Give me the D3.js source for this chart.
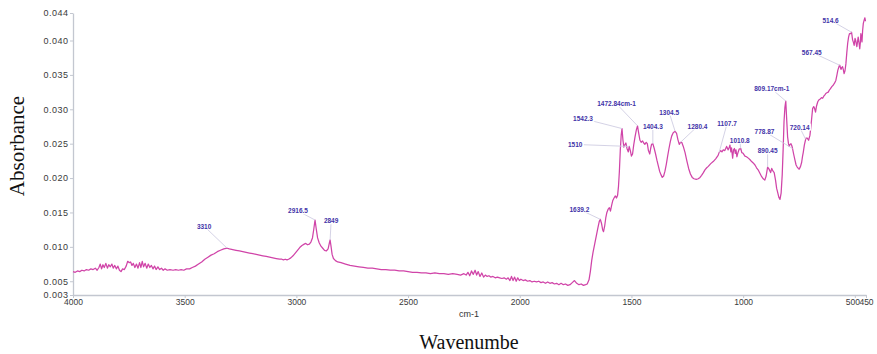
<!DOCTYPE html>
<html>
<head>
<meta charset="utf-8">
<script src="https://cdn.jsdelivr.net/npm/d3@7"></script>
<style>
  body { margin: 0; background: #fff; }
  svg { display: block; }
</style>
</head>
<body>
<svg id="chart" width="877" height="354"></svg>
<script>
// FTIR absorbance spectrum: [wavenumber (cm-1), absorbance]
const spectrum = [
  [4000,0.0064],[3990,0.0063],[3980,0.0065],[3970,0.0064],[3960,0.0066],[3950,0.0065],[3940,0.0067],
  [3930,0.0066],[3920,0.0068],[3910,0.0067],[3900,0.0069],[3892,0.0066],[3884,0.0070],[3878,0.0075],
  [3872,0.0068],[3866,0.0074],[3860,0.0070],[3853,0.0076],[3846,0.0069],[3840,0.0074],[3833,0.0071],
  [3826,0.0075],[3820,0.0069],[3813,0.0073],[3806,0.0068],[3799,0.0072],[3792,0.0066],[3785,0.0064],
  [3778,0.0068],[3770,0.0067],[3762,0.0072],[3755,0.0079],[3748,0.0077],[3742,0.0078],[3736,0.0073],
  [3730,0.0076],[3723,0.0070],[3716,0.0075],[3709,0.0069],[3702,0.0077],[3696,0.0070],[3690,0.0079],
  [3684,0.0071],[3677,0.0076],[3670,0.0069],[3663,0.0075],[3656,0.0070],[3649,0.0073],[3642,0.0068],
  [3635,0.0072],[3628,0.0067],[3620,0.0071],[3612,0.0067],[3604,0.0069],[3596,0.0066],[3588,0.0068],
  [3578,0.0066],[3566,0.0067],[3552,0.0066],[3540,0.0067],[3528,0.0066],[3516,0.0067],[3504,0.0066],
  [3492,0.0068],[3478,0.0068],[3466,0.0070],[3452,0.0072],[3438,0.0075],[3424,0.0078],[3410,0.0082],
  [3396,0.0085],[3382,0.0088],[3368,0.0090],[3354,0.0093],[3340,0.0095],[3325,0.0097],[3310,0.0098],
  [3300,0.0097],[3285,0.0096],[3270,0.0095],[3255,0.0094],[3240,0.0093],[3225,0.0092],[3210,0.0091],
  [3195,0.0090],[3180,0.0089],[3165,0.0088],[3150,0.0087],[3135,0.0086],[3120,0.0085],[3105,0.0084],
  [3090,0.0083],[3075,0.0082],[3065,0.0082],[3058,0.0081],[3050,0.0082],[3042,0.0081],[3035,0.0082],
  [3025,0.0084],[3015,0.0087],[3005,0.0091],[2995,0.0095],[2985,0.0099],[2975,0.0102],[2965,0.0104],
  [2958,0.0105],[2950,0.0103],[2942,0.0104],[2935,0.0107],[2928,0.0113],[2922,0.0126],[2916.5,0.0139],
  [2911,0.0126],[2905,0.0113],[2898,0.0106],[2890,0.0101],[2882,0.0098],[2874,0.0095],[2866,0.0094],
  [2858,0.0097],[2852,0.0106],[2849,0.0110],[2845,0.0101],[2840,0.0089],[2834,0.0083],[2825,0.0080],
  [2815,0.0078],[2800,0.0077],[2780,0.0075],[2760,0.0073],[2740,0.0072],[2720,0.0071],
  [2700,0.0070],[2680,0.0069],[2660,0.0069],[2640,0.0068],[2620,0.0067],[2600,0.0067],[2580,0.0066],
  [2560,0.0066],[2540,0.0065],[2520,0.0065],[2500,0.0064],[2480,0.0063],[2460,0.0063],[2440,0.0062],
  [2420,0.0062],[2400,0.0061],[2380,0.0062],[2360,0.0061],[2340,0.0061],[2320,0.0060],[2300,0.0061],
  [2280,0.0060],[2265,0.0059],[2250,0.0061],[2240,0.0059],[2232,0.0063],[2224,0.0058],[2216,0.0065],
  [2208,0.0060],[2200,0.0066],[2193,0.0059],[2186,0.0064],[2178,0.0057],[2170,0.0062],[2162,0.0056],
  [2154,0.0059],[2146,0.0057],[2138,0.0058],[2130,0.0056],[2120,0.0057],[2110,0.0055],[2100,0.0056],
  [2090,0.0055],[2080,0.0054],[2070,0.0055],[2060,0.0053],[2052,0.0055],[2044,0.0051],[2037,0.0057],
  [2030,0.0051],[2023,0.0056],[2016,0.0050],[2009,0.0055],[2002,0.0051],[1995,0.0053],[1985,0.0051],
  [1975,0.0052],[1965,0.0050],[1955,0.0051],[1945,0.0049],[1935,0.0050],[1925,0.0049],[1915,0.0050],
  [1905,0.0048],[1895,0.0049],[1885,0.0047],[1875,0.0049],[1865,0.0047],[1855,0.0048],[1845,0.0046],
  [1835,0.0047],[1825,0.0045],[1815,0.0047],[1805,0.0045],[1795,0.0046],[1785,0.0044],[1775,0.0045],
  [1765,0.0048],[1755,0.0051],[1745,0.0047],[1735,0.0045],[1725,0.0046],[1715,0.0044],[1705,0.0045],
  [1698,0.0046],[1690,0.0052],[1684,0.0064],[1678,0.0080],
  [1672,0.0092],[1664,0.0105],[1656,0.0118],[1650,0.0128],[1644,0.0137],[1639.2,0.0140],[1634,0.0134],
  [1629,0.0125],[1625,0.0122],[1620,0.0130],[1615,0.0142],[1610,0.0150],[1604,0.0155],[1599,0.0157],
  [1594,0.0152],[1589,0.0160],[1584,0.0167],[1578,0.0171],[1572,0.0174],[1567,0.0171],[1562,0.0175],
  [1558,0.0188],[1554,0.0210],[1550,0.0240],[1546,0.0262],[1542.3,0.0272],[1538,0.0255],[1534,0.0245],
  [1530,0.0248],[1525,0.0251],[1520,0.0243],[1514,0.0238],[1510,0.0246],[1505,0.0240],[1500,0.0232],
  [1495,0.0235],[1490,0.0248],[1484,0.0260],[1478,0.0270],[1472.84,0.0276],[1468,0.0266],[1462,0.0255],
  [1456,0.0252],[1450,0.0254],[1445,0.0251],[1440,0.0249],[1434,0.0252],[1429,0.0250],[1424,0.0240],
  [1418,0.0235],[1414,0.0243],[1410,0.0249],[1404.3,0.0250],[1398,0.0243],[1392,0.0235],[1386,0.0226],
  [1380,0.0218],[1374,0.0210],[1368,0.0205],[1362,0.0201],[1356,0.0203],[1350,0.0210],[1344,0.0220],
  [1338,0.0232],[1332,0.0243],[1326,0.0253],[1320,0.0261],[1313,0.0266],[1304.5,0.0268],[1298,0.0265],
  [1292,0.0256],[1286,0.0249],[1280.4,0.0252],[1275,0.0252],[1268,0.0246],[1260,0.0237],[1252,0.0225],
  [1244,0.0214],[1236,0.0206],[1228,0.0201],[1220,0.0199],[1210,0.0198],[1201,0.0199],[1193,0.0201],
  [1186,0.0204],[1178,0.0208],[1171,0.0212],[1163,0.0215],[1156,0.0217],[1145,0.0221],[1134,0.0224],
  [1123,0.0228],[1112,0.0233],[1107.7,0.0237],[1101,0.0240],[1095,0.0238],[1089,0.0241],[1082,0.0240],
  [1074,0.0246],[1067,0.0241],[1062,0.0245],[1059,0.0248],[1055,0.0238],[1052,0.0244],[1047,0.0229],
  [1043,0.0241],[1039,0.0243],[1035,0.0236],[1032,0.0241],[1028,0.0231],[1024,0.0236],[1018,0.0242],
  [1010.8,0.0243],[1006,0.0237],[1000,0.0236],[992,0.0232],[985,0.0231],[977,0.0229],[970,0.0227],
  [962,0.0224],[955,0.0222],[947,0.0219],[940,0.0215],[933,0.0212],[925,0.0207],[917,0.0202],
  [910,0.0199],[903,0.0197],[897,0.0203],[890.45,0.0216],[884,0.0213],[877,0.0208],[872,0.0214],
  [866,0.0210],[861,0.0208],[855,0.0197],[850,0.0185],[846,0.0180],[840,0.0172],[835,0.0169],
  [830,0.0178],[825,0.0205],[821,0.0241],[817,0.0282],[813,0.0303],[809.17,0.0312],[805,0.0285],
  [801,0.0260],[797,0.0250],[794,0.0246],[790,0.0249],[786,0.0250],[782,0.0247],[778.87,0.0243],
  [774,0.0235],[768,0.0226],[763,0.0219],[758,0.0216],[753,0.0214],[749,0.0213],[743,0.0217],
  [738,0.0223],[734,0.0232],[731,0.0237],[726,0.0248],[719,0.0258],[713,0.0258],[707,0.0255],
  [701,0.0262],[697,0.0274],[694,0.0284],[689,0.0301],[684,0.0304],[680,0.0301],[676,0.0296],
  [672,0.0304],[666,0.0311],[660,0.0314],[655,0.0315],[649,0.0317],[644,0.0316],[639,0.0319],
  [634,0.0321],[630,0.0323],[625,0.0324],[619,0.0325],[614,0.0328],[609,0.0330],[603,0.0333],
  [597,0.0335],[591,0.0338],[585,0.0342],[580,0.0350],[576,0.0357],[570,0.0363],[567.45,0.0364],
  [562,0.0358],[558,0.0361],[555,0.0362],[551,0.0357],[548,0.0352],[544,0.0356],[540,0.0366],
  [536,0.0382],[532,0.0396],[528,0.0405],[524,0.0410],[519,0.0410],[514.6,0.0412],[510,0.0401],
  [506,0.0397],[503,0.0393],[499,0.0403],[496,0.0400],[493,0.0394],[491,0.0391],[488,0.0398],
  [485,0.0405],[481,0.0396],[478,0.0388],[475,0.0398],[473,0.0410],[470,0.0404],[468,0.0398],
  [465,0.0415],[462,0.0425],[458,0.0430],[455,0.0433],[452,0.0428]
];

const xTicks = [4000, 3500, 3000, 2500, 2000, 1500, 1000, 500, 450];
const yTicks = [0.003, 0.005, 0.010, 0.015, 0.020, 0.025, 0.030, 0.035, 0.040, 0.044];

// Annotated bands
const peakWavenumbers = [3310, 2916.5, 2849, 1639.2, 1542.3, 1510, 1472.84, 1404.3, 1304.5,
  1280.4, 1107.7, 1010.8, 890.45, 809.17, 778.87, 720.14, 567.45, 514.6];
const peakLabels = ["3310", "2916.5", "2849", "1639.2", "1542.3", "1510", "1472.84cm-1", "1404.3",
  "1304.5", "1280.4", "1107.7", "1010.8", "890.45", "809.17cm-1", "778.87", "720.14", "567.45", "514.6"];

// Label placement relative to the band position on the trace (px)
const labelOffsets = [[-23,-22],[-17,-9],[1,-19],[-21,-10],[-39,-10],[-54,-2],[-21,-22],[0,-17],
  [-6,-19],[17,-16],[8,-29],[-1,-8],[0,-16],[-14,-12],[-28,-17],[-6,-12],[-28,-13],[-21,-12]];

const svg = d3.select("#chart");
const x = d3.scaleLinear().domain([4000, 450]).range([73, 866]);
const y = d3.scaleLinear().domain([0.003, 0.044]).range([295, 13]);

const axisColor = "#c3c7d0";
const tickFont = "Liberation Sans, Arial, sans-serif";

// y axis
const gy = svg.append("g").attr("transform", "translate(73,0)")
  .call(d3.axisLeft(y).tickValues(yTicks).tickFormat(d3.format(".3f"))
    .tickSize(3).tickSizeOuter(0).tickPadding(1.5));
gy.select(".domain").attr("stroke", axisColor).attr("stroke-width", 1.3);
gy.selectAll(".tick line").attr("stroke", axisColor);
gy.selectAll(".tick text").attr("fill", "#3a3a3a").style("font", "9px " + tickFont)
  .style("letter-spacing", "0.5px");

// x axis
const gx = svg.append("g").attr("transform", "translate(0,295)")
  .call(d3.axisBottom(x).tickValues(xTicks).tickFormat(d3.format("d"))
    .tickSize(3).tickSizeOuter(0).tickPadding(1));
gx.select(".domain").attr("stroke", axisColor).attr("stroke-width", 1.6);
gx.selectAll(".tick line").attr("stroke", axisColor);
gx.selectAll(".tick text").attr("fill", "#3a3a3a").style("font", "8.5px " + tickFont);
gx.selectAll(".tick text").filter(d => d === 500).attr("dx", -2.5);
gx.selectAll(".tick text").filter(d => d === 450).attr("dx", 0);

// spectrum trace
const line = d3.line().x(d => x(d[0])).y(d => y(d[1]));
svg.append("path").datum(spectrum)
  .attr("d", line)
  .attr("fill", "none")
  .attr("stroke", "#d044a8")
  .attr("stroke-width", 1.25)
  .attr("stroke-linejoin", "round");

// absorbance at a given wavenumber along the trace
function absorbanceAt(w) {
  for (let i = 0; i < spectrum.length - 1; i++) {
    const [w0, a0] = spectrum[i], [w1, a1] = spectrum[i + 1];
    if (w <= w0 && w >= w1) return a0 + (a1 - a0) * (w0 - w) / (w0 - w1);
  }
  return spectrum[spectrum.length - 1][1];
}

// band annotations with leader lines
const ann = svg.append("g");
peakWavenumbers.forEach((w, i) => {
  const px = x(w), py = y(absorbanceAt(w));
  const lx = px + labelOffsets[i][0], ly = py + labelOffsets[i][1];
  ann.append("line")
    .attr("x1", lx).attr("y1", ly).attr("x2", px).attr("y2", py)
    .attr("stroke", "#cfcde2").attr("stroke-width", 0.9);
  const g = ann.append("g");
  const t = g.append("text")
    .attr("x", lx).attr("y", ly).attr("dy", "0.35em")
    .attr("text-anchor", "middle")
    .attr("fill", "#4233a8")
    .style("font", "600 6.5px " + tickFont)
    .text(peakLabels[i]);
  const b = t.node().getBBox();
  g.insert("rect", "text")
    .attr("x", b.x - 1).attr("y", b.y).attr("width", b.width + 2).attr("height", b.height)
    .attr("fill", "#fff");
});

// axis titles
svg.append("text")
  .attr("x", 469).attr("y", 317)
  .attr("text-anchor", "middle")
  .attr("fill", "#333")
  .style("font", "9px " + tickFont)
  .text("cm-1");

svg.append("text")
  .attr("x", 469).attr("y", 349)
  .attr("text-anchor", "middle")
  .attr("fill", "#111")
  .style("font", "20px 'Liberation Serif', 'Times New Roman', serif")
  .text("Wavenumbe");

svg.append("text")
  .attr("transform", "translate(24,146) rotate(-90)")
  .attr("text-anchor", "middle")
  .attr("fill", "#111")
  .style("font", "21px 'Liberation Serif', 'Times New Roman', serif")
  .text("Absorbance");
</script>
</body>
</html>
